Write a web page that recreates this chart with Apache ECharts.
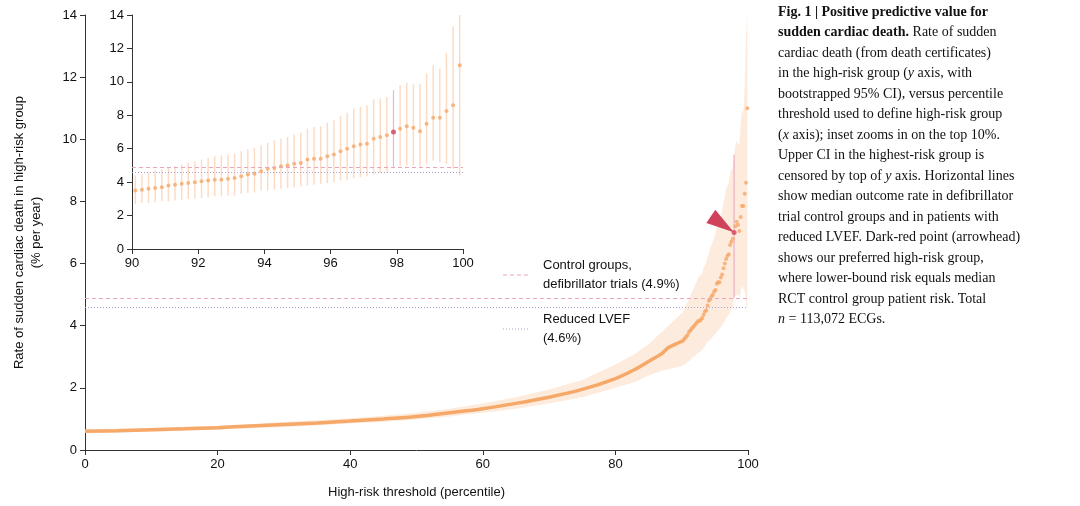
<!DOCTYPE html><html><head><meta charset="utf-8"><script src="https://cdn.jsdelivr.net/npm/echarts@6/dist/echarts.min.js"></script>
<style>body{margin:0}#c{width:1080px;height:506px}</style></head><body><div id="c"></div><script>
const lowX=[0,5,10,15,20,25,30,35,40,45,50,55,60,65,70,75,80,83,85,87,88,89,90];
const lowY=[0.6,0.62,0.65,0.68,0.72,0.77,0.82,0.87,0.93,1.0,1.08,1.2,1.33,1.5,1.7,1.95,2.3,2.6,2.85,3.1,3.3,3.4,3.5];
const lowLo=[0.55,0.57,0.59,0.62,0.66,0.7,0.74,0.79,0.85,0.91,0.98,1.08,1.2,1.33,1.5,1.7,2.0,2.2,2.4,2.55,2.6,2.65,2.7];
const lowHi=[0.67,0.69,0.72,0.75,0.78,0.84,0.9,0.96,1.02,1.1,1.2,1.33,1.5,1.7,1.95,2.25,2.75,3.1,3.4,3.8,4.0,4.2,4.4];
const topX=[];for(let i=0;i<50;i++)topX.push(+(90.1+0.2*i).toFixed(1));
const topY=[3.5,3.55,3.6,3.65,3.7,3.8,3.85,3.9,3.95,4.0,4.05,4.1,4.15,4.15,4.2,4.25,4.35,4.45,4.5,4.65,4.8,4.85,4.95,5.0,5.1,5.15,5.35,5.4,5.4,5.55,5.65,5.85,6.0,6.15,6.25,6.3,6.6,6.7,6.8,7.0,7.2,7.35,7.25,7.05,7.5,7.85,7.85,8.25,8.6,11.0];
const topLo=[2.7,2.75,2.75,2.8,2.85,2.85,2.9,2.95,3.0,3.0,3.05,3.1,3.15,3.15,3.2,3.2,3.3,3.35,3.4,3.5,3.5,3.55,3.6,3.65,3.7,3.75,3.8,3.85,3.9,3.95,4.0,4.1,4.15,4.25,4.3,4.35,4.45,4.55,4.6,4.9,4.95,5.0,5.0,4.9,5.1,5.3,5.2,5.1,4.8,4.4];
const topHi=[4.4,4.5,4.6,4.7,4.75,4.85,4.95,5.05,5.15,5.25,5.35,5.45,5.55,5.6,5.65,5.7,5.85,5.95,6.05,6.2,6.35,6.5,6.6,6.7,6.85,6.95,7.2,7.3,7.35,7.55,7.7,7.95,8.15,8.4,8.5,8.6,8.95,9.0,9.1,9.5,9.8,9.95,9.85,9.85,10.5,11.0,10.8,11.7,13.3,14.0];
const rctRate=4.9, lvefRate=4.6, chosenX=97.9, chosenY=7.0;
const ORANGE='#f6a868', BAND='rgba(250,205,170,0.4)';
const allX=lowX.concat(topX), allLo=lowLo.concat(topLo), allHi=lowHi.concat(topHi).map(v=>Math.min(14,v));
const topPts=topX.map((x,i)=>[x,topY[i]]).filter(p=>p[0]!==chosenX);
const errData=topX.map((x,i)=>[x,topLo[i],topHi[i]]);
const ax={axisLine:{lineStyle:{color:'#333'}},axisTick:{lineStyle:{color:'#333'},length:5},axisLabel:{color:'#111',fontSize:13,fontFamily:'Liberation Sans'},splitLine:{show:false}};
const chart=echarts.init(document.getElementById('c'));
function errItem(params,api){const x=api.value(0);const p1=api.coord([x,api.value(1)]),p2=api.coord([x,api.value(2)]);
 const red=Math.abs(x-chosenX)<0.01;
 return {type:'line',shape:{x1:p1[0],y1:p1[1],x2:p2[0],y2:p2[1]},style:{stroke:red?'rgba(230,150,180,0.7)':'rgba(250,190,150,0.55)',lineWidth:red?1.2:1.5}};}
function bandItem(params,api){
 const pts=[];for(let i=0;i<allX.length;i++)pts.push(api.coord([allX[i],allHi[i]]));
 for(let i=allX.length-1;i>=0;i--)pts.push(api.coord([allX[i],allLo[i]]));
 return {type:'polygon',shape:{points:pts},style:{fill:BAND}};}
const font='Liberation Serif';
const hls={silent:true,symbol:'none',label:{show:false},data:[{yAxis:rctRate,lineStyle:{type:[4,3],color:'#eaa6bb',width:1}},{yAxis:lvefRate,lineStyle:{type:[1,2],color:'#a9a3d6',width:1}}]};
chart.setOption({animation:false,
 grid:[{left:85,right:332,top:15,bottom:56},{left:132,right:617,top:15,bottom:257}],
 xAxis:[Object.assign({type:'value',gridIndex:0,min:0,max:100,interval:20,name:'High-risk threshold (percentile)',nameLocation:'middle',nameGap:36,nameTextStyle:{fontSize:13,fontFamily:'Liberation Sans',color:'#111'}},ax),
  Object.assign({type:'value',gridIndex:1,min:90,max:100,interval:2},ax)],
 yAxis:[Object.assign({type:'value',gridIndex:0,min:0,max:14,interval:2,name:'Rate of sudden cardiac death in high-risk group\n(% per year)',nameLocation:'middle',nameGap:40,nameTextStyle:{fontSize:13,fontFamily:'Liberation Sans',color:'#111',lineHeight:17}},ax),
  Object.assign({type:'value',gridIndex:1,min:0,max:14,interval:2},ax)],
 series:[
  {type:'custom',xAxisIndex:0,yAxisIndex:0,data:[[0,0]],renderItem:bandItem,silent:true,z:1,markLine:hls},
  {type:'custom',xAxisIndex:0,yAxisIndex:0,data:errData.filter(d=>d[0]===chosenX),renderItem:errItem,encode:{x:0,y:[1,2]},z:2},
  {type:'line',xAxisIndex:0,yAxisIndex:0,data:lowX.map((x,i)=>[x,lowY[i]]),symbol:'none',smooth:0.3,lineStyle:{color:ORANGE,width:3.5},z:3},
  {type:'scatter',xAxisIndex:0,yAxisIndex:0,data:topPts,symbolSize:4,itemStyle:{color:ORANGE},z:3},
  {type:'scatter',xAxisIndex:0,yAxisIndex:0,data:[[chosenX,chosenY]],symbolSize:5,itemStyle:{color:'#d0415a'},z:5,
   markPoint:{silent:true,data:[{coord:[chosenX,chosenY],symbol:'path://M0,13.2L9,0L27.5,22.6Z',symbolSize:[27.5,22.6],symbolKeepAspect:false,symbolOffset:[-14,-11.5],itemStyle:{color:'#d0415a'},label:{show:false}}]}},
  {type:'custom',xAxisIndex:1,yAxisIndex:1,data:errData,renderItem:errItem,encode:{x:0,y:[1,2]},z:3,markLine:hls},
  {type:'scatter',xAxisIndex:1,yAxisIndex:1,data:topPts,symbolSize:4,itemStyle:{color:ORANGE},z:4},
  {type:'scatter',xAxisIndex:1,yAxisIndex:1,data:[[chosenX,chosenY]],symbolSize:5,itemStyle:{color:'#d0415a'},z:5}
 ],
 graphic:[
  {type:'line',shape:{x1:503,y1:275,x2:530,y2:275},style:{stroke:'#eaa6bb',lineDash:[4,3],lineWidth:1}},
  {type:'text',x:543,y:256,style:{text:'Control groups,\ndefibrillator trials (4.9%)',font:'13px Liberation Sans',fill:'#111',lineHeight:19}},
  {type:'line',shape:{x1:503,y1:329,x2:530,y2:329},style:{stroke:'#a9a3d6',lineDash:[1,2],lineWidth:1}},
  {type:'text',x:543,y:310,style:{text:'Reduced LVEF\n(4.6%)',font:'13px Liberation Sans',fill:'#111',lineHeight:19}},
  {type:'text',x:778,y:2,style:{
   text:'{b|Fig. 1 | Positive predictive value for}\n{b|sudden cardiac death.} Rate of sudden\ncardiac death (from death certificates)\nin the high-risk group ({i|y} axis, with\nbootstrapped 95% CI), versus percentile\nthreshold used to define high-risk group\n({i|x} axis); inset zooms in on the top 10%.\nUpper CI in the highest-risk group is\ncensored by top of {i|y} axis. Horizontal lines\nshow median outcome rate in defibrillator\ntrial control groups and in patients with\nreduced LVEF. Dark-red point (arrowhead)\nshows our preferred high-risk group,\nwhere lower-bound risk equals median\nRCT control group patient risk. Total\n{i|n} = 113,072 ECGs.',
   font:'14px '+font,fill:'#111',lineHeight:20.5,
   rich:{b:{fontWeight:'bold',fontFamily:font,fontSize:14,lineHeight:20.5},i:{fontStyle:'italic',fontFamily:font,fontSize:14,lineHeight:20.5}}}}
 ]});
</script></body></html>
